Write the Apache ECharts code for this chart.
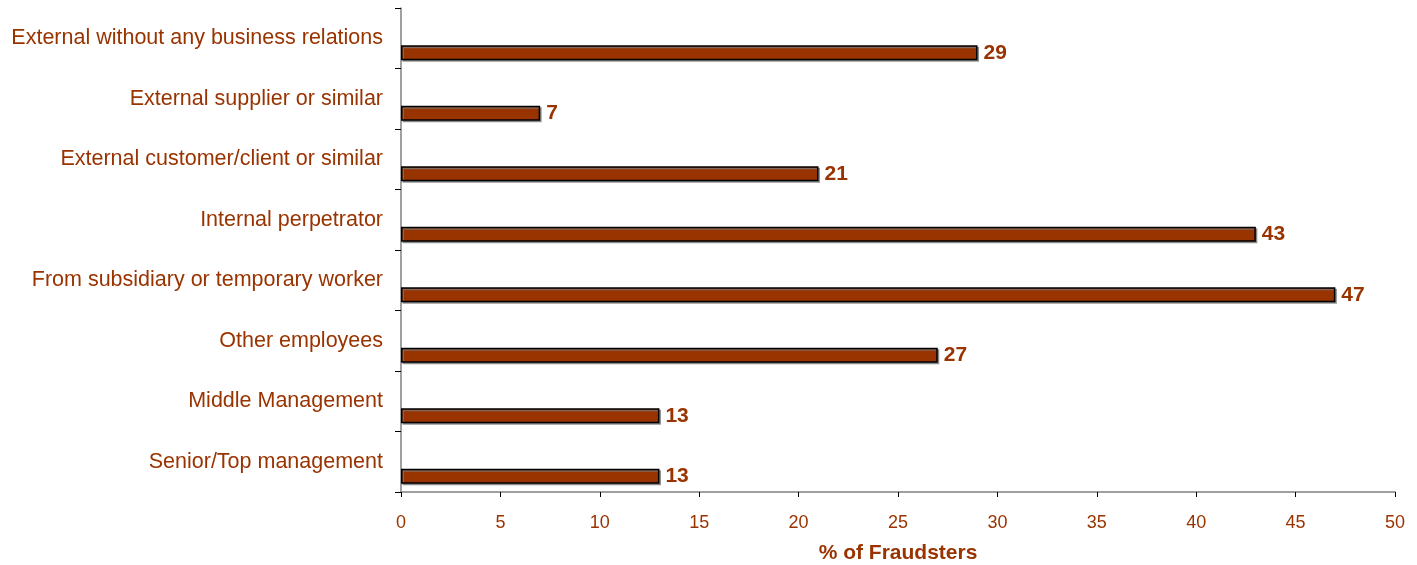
<!DOCTYPE html>
<html>
<head>
<meta charset="utf-8">
<script src="https://cdn.jsdelivr.net/npm/echarts@6/dist/echarts.min.js"></script>
<style>
html,body{margin:0;padding:0;background:#fff;}
#c{width:1417px;height:565px;}
</style>
</head>
<body>
<div id="c"></div>
<script>
// bottom-to-top order (category axis starts at bottom)
const categories = [
  'Senior/Top management',
  'Middle Management',
  'Other employees',
  'From subsidiary or temporary worker',
  'Internal perpetrator',
  'External customer/client or similar',
  'External supplier or similar',
  'External without any business relations'
];
const values = [13, 13, 27, 47, 43, 21, 7, 29];
const spacer = [0, 0, 0, 0, 0, 0, 0, 0];
const xTicks = [0, 50, 5];

const brown = '#993300';
const chart = echarts.init(document.getElementById('c'), null, {renderer: 'canvas'});
chart.setOption({
  animation: false,
  grid: {left: 401, right: 22, top: 8, bottom: 73, containLabel: false, outerBoundsMode: 'none'},
  xAxis: {
    type: 'value', min: xTicks[0], max: xTicks[1], interval: xTicks[2],
    name: '% of Fraudsters', nameLocation: 'middle', nameGap: 51,
    nameTextStyle: {color: brown, fontFamily: 'Liberation Sans, Arial', fontWeight: 'bold', fontSize: 21},
    axisLine: {show: true, lineStyle: {color: '#808080', width: 1.5}},
    axisTick: {show: true, inside: false, length: 5, lineStyle: {color: '#000'}},
    axisLabel: {color: brown, fontFamily: 'Liberation Sans, Arial', fontSize: 18, margin: 22},
    splitLine: {show: false}
  },
  yAxis: {
    type: 'category', data: categories,
    axisLine: {show: true, lineStyle: {color: '#808080', width: 1.5}},
    axisTick: {show: true, inside: false, length: 6, lineStyle: {color: '#000'}},
    axisLabel: {color: brown, fontFamily: 'Liberation Sans, Arial', fontSize: 21.5, margin: 18}
  },
  series: [
    {type: 'bar', data: spacer, barWidth: 15, barGap: '93%', itemStyle: {color: 'rgba(0,0,0,0)'}, silent: true},
    {
      type: 'bar', data: values, barWidth: 15,
      itemStyle: {color: brown, borderColor: '#000', borderWidth: 1.5,
        shadowColor: 'rgba(120,120,120,0.8)', shadowOffsetX: 1.5, shadowOffsetY: 1.5, shadowBlur: 0},
      label: {show: true, position: 'right', distance: 6, color: brown,
        fontFamily: 'Liberation Sans, Arial', fontWeight: 'bold', fontSize: 21}
    }
  ]
});
</script>
</body>
</html>
